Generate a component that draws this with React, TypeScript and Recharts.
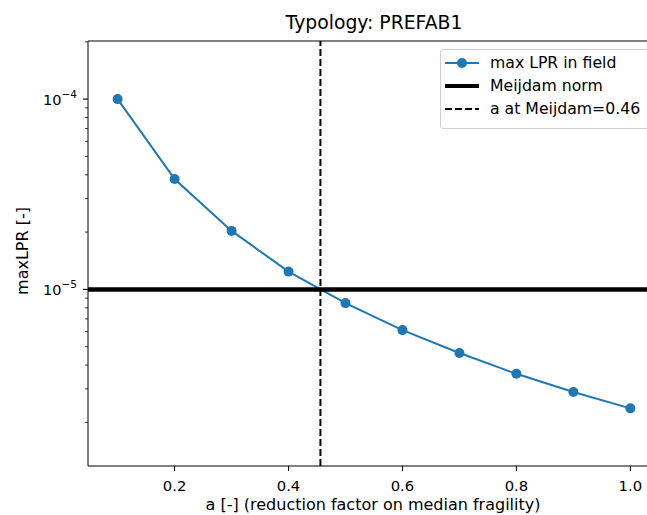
import React from "react";
import { LineChart, Line, XAxis, YAxis, ReferenceLine } from "recharts";

// reduction factor a and max LPR
const aValues = [0.1, 0.2, 0.3, 0.4, 0.5, 0.6, 0.7, 0.8, 0.9, 1.0];
const maxLpr = [1.0e-4, 3.8e-5, 2.03e-5, 1.24e-5, 8.47e-6, 6.11e-6, 4.63e-6, 3.6e-6, 2.89e-6, 2.37e-6];
const meijdamNorm = 1e-5;
const aAtMeijdam = 0.456;

const xTicks = [0.2, 0.4, 0.6, 0.8, 1.0];
const yMajorTicks = [1e-5, 1e-4];
const yMinorTicks = [
  2e-6, 3e-6, 4e-6, 5e-6, 6e-6, 7e-6, 8e-6, 9e-6,
  2e-5, 3e-5, 4e-5, 5e-5, 6e-5, 7e-5, 8e-5, 9e-5,
  2e-4,
];
const legendLabels = ["max LPR in field", "Meijdam norm", "a at Meijdam=0.46"];

const xDomain = [0.048, 1.045];
const yDomain = [1.18e-6, 2.02e-4];

const rows = aValues.map((a, i) => ({ a, lpr: maxLpr[i] }));

const FONT = "DejaVu Sans";
const BLUE = "#1f77b4";
const PLOT_LEFT = 88;

const YTick = (props: any) => {
  const { y, payload } = props;
  const v = payload.value;
  const isMajor = yMajorTicks.some((m) => Math.abs(m - v) / m < 1e-6);
  const exp = Math.round(Math.log10(v));
  return (
    <g>
      <line
        x1={PLOT_LEFT - (isMajor ? 5 : 3)}
        x2={PLOT_LEFT}
        y1={y}
        y2={y}
        stroke="#000"
        strokeWidth={isMajor ? 1.1 : 0.8}
      />
      {isMajor && (
        <text x={77} y={y + 6} textAnchor="end" fontSize={14.5} fontFamily={FONT} fill="#000">
          10
          <tspan dy={-7} fontSize={10.5}>
            {"\u2212" + Math.abs(exp)}
          </tspan>
        </text>
      )}
    </g>
  );
};

const XLabel = () => (
  <text x={373} y={510} textAnchor="middle" fontSize={16} fontFamily={FONT} fill="#000">
    a [-] (reduction factor on median fragility)
  </text>
);

const YLabel = () => (
  <text
    x={28}
    y={251}
    transform="rotate(-90 28 251)"
    textAnchor="middle"
    fontSize={16}
    fontFamily={FONT}
    fill="#000"
  >
    maxLPR [-]
  </text>
);

const handles = [
  <svg width={34} height={14}>
    <line x1={0} x2={34} y1={7} y2={7} stroke={BLUE} strokeWidth={2} />
    <circle cx={17} cy={7} r={5} fill={BLUE} />
  </svg>,
  <svg width={34} height={14}>
    <line x1={0} x2={34} y1={7} y2={7} stroke="#000" strokeWidth={4} />
  </svg>,
  <svg width={34} height={14}>
    <line x1={0} x2={34} y1={7} y2={7} stroke="#000" strokeWidth={2} strokeDasharray="7 3" />
  </svg>,
];

export default function App() {
  return (
    <div
      style={{
        position: "absolute",
        left: 0,
        top: 0,
        width: 647,
        height: 515,
        overflow: "hidden",
        background: "#fff",
        fontFamily: FONT,
      }}
    >
      <LineChart width={680} height={515} data={rows} margin={{ top: 41, right: 24, bottom: 0, left: 0 }}>
        <XAxis
          type="number"
          dataKey="a"
          domain={xDomain}
          allowDataOverflow
          ticks={xTicks}
          interval={0}
          tickFormatter={(v: number) => v.toFixed(1)}
          tick={{ fill: "#000", fontSize: 14.8, fontFamily: FONT }}
          tickSize={5}
          tickMargin={9}
          stroke="#000"
          height={49}
          label={<XLabel />}
        />
        <YAxis
          type="number"
          scale="log"
          domain={yDomain}
          allowDataOverflow
          ticks={[...yMinorTicks, ...yMajorTicks]}
          interval={0}
          tick={<YTick />}
          tickLine={false}
          stroke="#000"
          width={88}
          label={<YLabel />}
        />
        <ReferenceLine y={yDomain[1]} stroke="#000" strokeWidth={1} />
        <Line
          dataKey="lpr"
          stroke={BLUE}
          strokeWidth={2}
          dot={{ r: 5, fill: BLUE, stroke: BLUE, strokeWidth: 0 }}
          activeDot={false}
          isAnimationActive={false}
        />
        <ReferenceLine y={meijdamNorm} stroke="#000" strokeWidth={4.5} />
        <ReferenceLine x={aAtMeijdam} stroke="#000" strokeWidth={2} strokeDasharray="7 3" />
      </LineChart>
      <div
        style={{
          position: "absolute",
          left: 0,
          width: 748,
          top: 12,
          textAlign: "center",
          fontSize: 18.8,
          lineHeight: "22px",
          color: "#000",
        }}
      >
        Typology: PREFAB1
      </div>
      <div
        style={{
          position: "absolute",
          left: 440,
          top: 49,
          width: 240,
          height: 78,
          border: "1px solid #d0d0d0",
          borderRadius: 3,
          background: "rgba(255,255,255,0.8)",
        }}
      >
        {legendLabels.map((label, i) => (
          <div
            key={label}
            style={{
              position: "absolute",
              left: 4,
              top: 3 + i * 23,
              height: 20,
              display: "flex",
              alignItems: "center",
              fontSize: 15.7,
              lineHeight: "20px",
              color: "#000",
              whiteSpace: "nowrap",
            }}
          >
            {handles[i]}
            <span style={{ marginLeft: 11 }}>{label}</span>
          </div>
        ))}
      </div>
    </div>
  );
}
